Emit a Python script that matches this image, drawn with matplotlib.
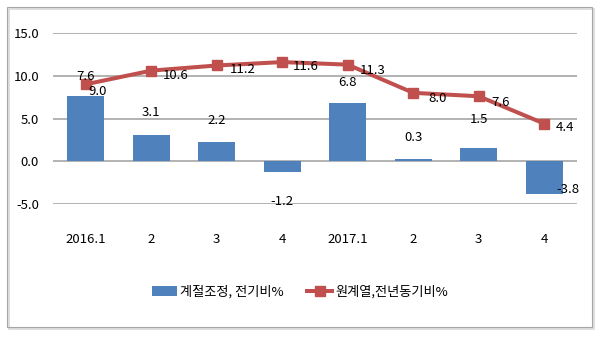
import numpy as np
import matplotlib
matplotlib.use("Agg")
import matplotlib.pyplot as plt
from matplotlib.patches import Rectangle

plt.rcParams['font.family'] = ['Noto Sans CJK KR', 'DejaVu Sans']

# data
quarters = ['2016.1', '2', '3', '4', '2017.1', '2', '3', '4']
qoq_sa = [7.6, 3.1, 2.2, -1.2, 6.8, 0.3, 1.5, -3.8]     # 계절조정, 전기비%
yoy_raw = [9.0, 10.6, 11.2, 11.6, 11.3, 8.0, 7.6, 4.4]  # 원계열,전년동기비%
yticks = [-5.0, 0.0, 5.0, 10.0, 15.0]

blue = '#4F81BD'
red = '#C0504D'
px = 0.72  # one pixel in points at dpi 100

fig = plt.figure(figsize=(6.0, 3.37), dpi=100)
ax = fig.add_axes([53/600, 1-204/337, 524/600, 171/337])

x = np.arange(len(quarters))
bars = ax.bar(x, qoq_sa, width=0.57, color=blue, zorder=2, label='계절조정, 전기비%')
line, = ax.plot(x, yoy_raw, color=red, lw=2.9, marker='s', ms=7, zorder=3,
                label='원계열,전년동기비%')

ax.set_ylim(-5, 15)
ax.set_xlim(-0.5, len(quarters) - 0.5)
ax.set_yticks(yticks)
ax.set_yticklabels(['%.1f' % v for v in yticks])
ax.set_xticks(x)
ax.set_xticklabels(quarters)
ax.tick_params(axis='both', length=0, labelsize=9.5)
ax.tick_params(axis='x', pad=21)
ax.tick_params(axis='y', pad=10)
ax.grid(axis='y', color='#A6A6A6', lw=1.2, zorder=0)
for s in ax.spines.values():
    s.set_visible(False)

# bar labels (pixel offsets from bar end)
bar_off = [(0, 20), (0, 22), (0, 22), (0, -30), (0, 21), (0, 21), (0, 29), (24, 4)]
for i, v in enumerate(qoq_sa):
    dx, dy = bar_off[i]
    ax.annotate('%.1f' % v, (x[i], v), xytext=(dx*px, dy*px),
                textcoords='offset points', ha='center', va='center', fontsize=9.5)

# line labels, mostly to the right of the markers
line_off = [(12, -7), (24, -5), (26, -4), (23, -4), (25, -6), (24, -6), (22, -6), (21, -4)]
for i, v in enumerate(yoy_raw):
    dx, dy = line_off[i]
    ax.annotate('%.1f' % v, (x[i], v), xytext=(dx*px, dy*px),
                textcoords='offset points', ha='center', va='center', fontsize=9.5)

fig.legend(handles=[bars, line], loc='center', bbox_to_anchor=(0.5, 1-292/337), ncol=2,
           frameon=False, fontsize=9.5, handlelength=1.9, handletextpad=0.2,
           columnspacing=1.8)

# outer frame like the pasted chart box, with a faint shadow
fig.patches.append(Rectangle((8.5/600, 1-328.5/337), 585/600, 320/337, transform=fig.transFigure,
                             fill=False, edgecolor='#D9D9D9', lw=1.2))
fig.patches.append(Rectangle((7/600, 1-327/337), 585/600, 320/337, transform=fig.transFigure,
                             fill=False, edgecolor='#A6A6A6', lw=0.8))

fig.savefig('out.png', dpi=100)
